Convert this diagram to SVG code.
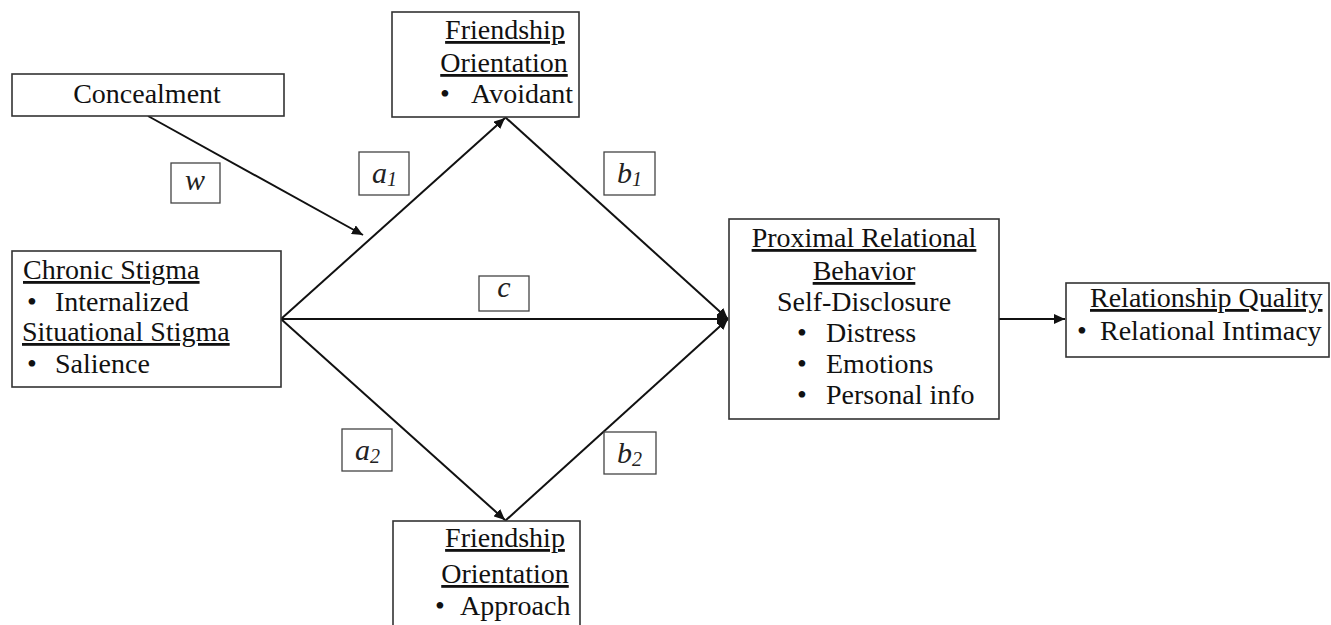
<svg xmlns="http://www.w3.org/2000/svg" width="1331" height="625" viewBox="0 0 1331 625">
  <style>
    .box { fill: #fff; stroke: #333; stroke-width: 1.6; }
    .lbl { fill: #fff; stroke: #444; stroke-width: 1.3; }
    .t { font-family: "Liberation Serif", "Times New Roman", serif; font-size: 28px; fill: #111; }
    .u { text-decoration: underline; }
    .m { text-anchor: middle; }
    .it { font-family: "Liberation Serif", "Times New Roman", serif; font-style: italic; font-size: 30px; fill: #222; }
    .sub { font-size: 20px; }
    .edge { stroke: #111; stroke-width: 2; fill: none; marker-end: url(#arrow); }
  </style>
  <defs>
    <marker id="arrow" markerUnits="userSpaceOnUse" markerWidth="12" markerHeight="10" refX="11" refY="5" orient="auto">
      <path d="M0,0 L11,5 L0,10 z" fill="#111"/>
    </marker>
  </defs>

  <rect width="1331" height="625" fill="#fff"/>

  <!-- connectors -->
  <g id="connectors">
    <line class="edge" x1="148" y1="116" x2="363" y2="235"/>
    <line class="edge" x1="281" y1="319" x2="505" y2="118"/>
    <line class="edge" x1="281" y1="319" x2="505" y2="520"/>
    <line class="edge" x1="281" y1="319" x2="728" y2="319"/>
    <line class="edge" x1="505" y1="117" x2="728" y2="319"/>
    <line class="edge" x1="505" y1="521" x2="728" y2="319"/>
    <line class="edge" x1="999" y1="319" x2="1065" y2="319"/>
  </g>

  <!-- path labels -->
  <g id="path-labels">
    <rect class="lbl" x="171" y="163" width="49" height="40"/>
    <text class="it m" x="195" y="190">w</text>
    <rect class="lbl" x="359" y="152" width="50" height="43"/>
    <text class="it" x="372" y="183">a<tspan class="sub" dy="3">1</tspan></text>
    <rect class="lbl" x="604" y="152" width="51" height="43"/>
    <text class="it" x="617" y="183">b<tspan class="sub" dy="3">1</tspan></text>
    <rect class="lbl" x="479" y="276" width="50" height="35"/>
    <text class="it m" x="504" y="297">c</text>
    <rect class="lbl" x="342" y="429" width="50" height="42"/>
    <text class="it" x="355" y="460">a<tspan class="sub" dy="3">2</tspan></text>
    <rect class="lbl" x="604" y="432" width="52" height="42"/>
    <text class="it" x="617" y="463">b<tspan class="sub" dy="3">2</tspan></text>
  </g>

  <!-- nodes -->
  <g id="concealment">
    <rect class="box" x="12" y="74" width="272" height="42"/>
    <text class="t m" x="147" y="103">Concealment</text>
  </g>

  <g id="stigma">
    <rect class="box" x="12" y="251" width="269" height="136"/>
    <text class="t u" x="23" y="279">Chronic Stigma</text>
    <text class="t" x="27" y="311">•</text>
    <text class="t" x="55" y="311">Internalized</text>
    <text class="t u" x="22" y="341">Situational Stigma</text>
    <text class="t" x="27" y="373">•</text>
    <text class="t" x="55" y="373">Salience</text>
  </g>

  <g id="orientation-avoidant">
    <rect class="box" x="392" y="12" width="187" height="105"/>
    <text class="t u m" x="505" y="39">Friendship</text>
    <text class="t u m" x="504" y="72">Orientation</text>
    <text class="t" x="440" y="103">•</text>
    <text class="t" x="471" y="103">Avoidant</text>
  </g>

  <g id="orientation-approach">
    <rect class="box" x="393" y="521" width="187" height="112"/>
    <text class="t u m" x="505" y="547">Friendship</text>
    <text class="t u m" x="505" y="583">Orientation</text>
    <text class="t" x="435" y="615">•</text>
    <text class="t" x="460" y="615">Approach</text>
  </g>

  <g id="proximal-behavior">
    <rect class="box" x="729" y="219" width="270" height="200"/>
    <text class="t u m" x="864" y="247">Proximal Relational</text>
    <text class="t u m" x="864" y="280">Behavior</text>
    <text class="t m" x="864" y="311">Self-Disclosure</text>
    <text class="t" x="797" y="342">•</text>
    <text class="t" x="826" y="342">Distress</text>
    <text class="t" x="797" y="373">•</text>
    <text class="t" x="826" y="373">Emotions</text>
    <text class="t" x="797" y="404">•</text>
    <text class="t" x="826" y="404">Personal info</text>
  </g>

  <g id="relationship-quality">
    <rect class="box" x="1066" y="283" width="263" height="74"/>
    <text class="t u" x="1090" y="307">Relationship Quality</text>
    <text class="t" x="1077" y="340">•</text>
    <text class="t" x="1100" y="340">Relational Intimacy</text>
  </g>
</svg>
